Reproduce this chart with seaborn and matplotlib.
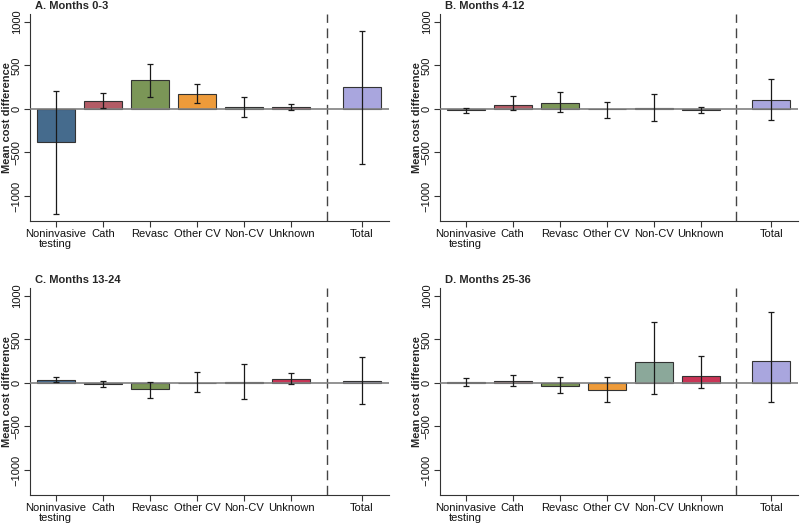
import pandas as pd
import seaborn as sns
import matplotlib.pyplot as plt

# Values (mean cost difference and its interval)
categories = ["Noninvasive\ntesting", "Cath", "Revasc", "Other CV", "Non-CV", "Unknown", "Total"]
panel_titles = ["A. Months 0-3", "B. Months 4-12", "C. Months 13-24", "D. Months 25-36"]

mean_a = [-375, 91, 331, 171, 19, 19, 251]
low_a = [-1205, 11, 137, 65, -95, -11, -635]
high_a = [201, 183, 521, 281, 133, 53, 897]

mean_b = [-15, 49, 72, -5, 10, -8, 99]
low_b = [-49, -15, -38, -99, -141, -46, -133]
high_b = [8, 144, 190, 84, 167, 23, 338]

mean_c = [38, -10, -68, 5, 12, 46, 27]
low_c = [8, -49, -175, -103, -183, -15, -247]
high_c = [65, 23, 15, 122, 213, 110, 300]

mean_d = [8, 19, -34, -76, 243, 84, 247]
low_d = [-34, -30, -118, -221, -129, -61, -224]
high_d = [57, 91, 65, 68, 700, 308, 810]

bar_colors = ["#456B8D", "#B35C66", "#7B9657", "#EE9B3A", "#8BA89A", "#C93556", "#A9A6DE"]
palette = dict(zip(categories, bar_colors))

panels = [
    (panel_titles[0], mean_a, low_a, high_a),
    (panel_titles[1], mean_b, low_b, high_b),
    (panel_titles[2], mean_c, low_c, high_c),
    (panel_titles[3], mean_d, low_d, high_d),
]

sns.set_style("ticks")
plt.rcParams['font.family'] = ['Liberation Sans', 'DejaVu Sans']
plt.rcParams['font.size'] = 8
plt.rcParams['axes.edgecolor'] = '#333333'
plt.rcParams['xtick.color'] = '#333333'
plt.rcParams['ytick.color'] = '#333333'
plt.rcParams['xtick.labelcolor'] = '#111111'
plt.rcParams['ytick.labelcolor'] = '#111111'

# gap before the "Total" bar
positions = list(range(1, len(categories))) + [len(categories) + 0.5]

fig = plt.figure(figsize=(8, 5.25), dpi=100)
boxes = [
    [0.0375, 0.579, 0.4485, 0.394],
    [0.55, 0.579, 0.4475, 0.394],
    [0.0375, 0.057, 0.4485, 0.394],
    [0.55, 0.057, 0.4475, 0.394],
]

for box, (title, mean, low, high) in zip(boxes, panels):
    ax = fig.add_axes(box)
    df = pd.DataFrame({"pos": positions, "category": categories, "mean": mean,
                       "low": low, "high": high})

    sns.barplot(data=df, x="pos", y="mean", hue="category", palette=palette,
                native_scale=True, dodge=False, width=0.8, errorbar=None,
                saturation=1, edgecolor="#333333", linewidth=0.8,
                legend=False, ax=ax)

    ax.axhline(0, color="#808080", lw=1.2, zorder=3)
    ax.errorbar(df["pos"], df["mean"],
                yerr=[df["mean"] - df["low"], df["high"] - df["mean"]],
                fmt="none", ecolor="#1a1a1a", elinewidth=0.9, capsize=2.5,
                capthick=0.9, zorder=4)
    ax.axvline((positions[-2] + positions[-1]) / 2, color="#444444", lw=1,
               ls=(0, (7, 4)))

    ax.set_xlim(0.453, 8.07)
    ax.set_ylim(-1288, 1088)
    ax.set_xticks(positions, categories, linespacing=1.0)
    ax.set_yticks([-1000, -500, 0, 500, 1000])
    ax.tick_params(axis="y", labelrotation=90, length=4, pad=2)
    ax.tick_params(axis="x", length=4, pad=2)
    for lab in ax.get_yticklabels():
        lab.set_va("center")

    ax.set_xlabel("")
    ax.set_ylabel("Mean cost difference", fontweight="bold")
    ax.yaxis.set_label_coords(-0.05, 0.5)
    sns.despine(ax=ax)

    ax.text(0.015, 1.015, title, transform=ax.transAxes, ha="left", va="bottom",
            fontweight="bold")

fig.savefig("out.png", dpi=100)
